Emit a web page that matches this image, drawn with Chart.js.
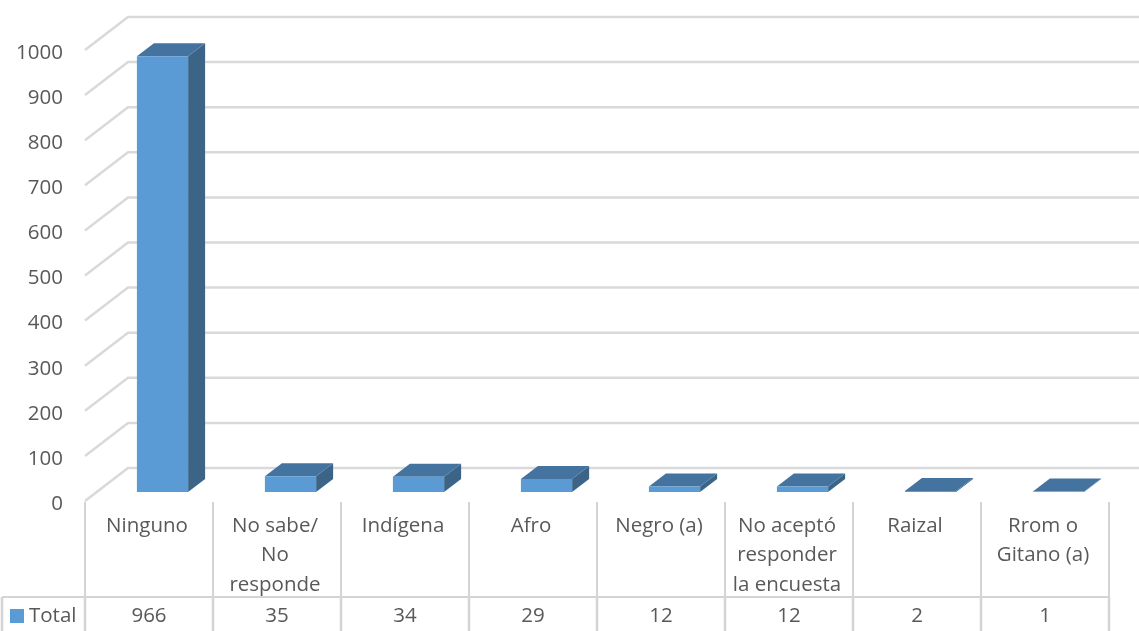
<!DOCTYPE html>
<html>
<head>
<meta charset="utf-8">
<style>
  html, body { margin: 0; padding: 0; background: #fff; overflow: hidden; }
  canvas { display: block; }
</style>
<script src="https://cdn.jsdelivr.net/npm/chart.js@4"></script>
</head>
<body>
<canvas id="chart" width="1139" height="631"></canvas>
<script>
const categories = [
  "Ninguno",
  ["No sabe/", "No", "responde"],
  "Indígena",
  "Afro",
  "Negro (a)",
  ["No aceptó", "responder", "la encuesta"],
  "Raizal",
  ["Rrom o", "Gitano (a)"],
];
const totals = [966, 35, 34, 29, 12, 12, 2, 1];
const seriesName = "Total";

const FONT = "'Open Sans'";
const FONT_SIZE = 20.5;
const TEXT = "#595959";
const GRID = "#d9d9d9";
const TABLE = "#d4d4d4";

// fake 3D: wall depth and how far the bars sit into the floor
const wallDx = 43;
const wallDy = 33;
const barShiftX = 13.5;
const barShiftY = 9;
const barDx = 17;
const barDy = 13;

const walls = {
  id: "walls",
  beforeDatasetsDraw(chart) {
    const { ctx, scales, chartArea } = chart;
    ctx.save();
    ctx.strokeStyle = GRID;
    ctx.lineWidth = 2.5;
    scales.y.ticks.forEach((t) => {
      const y = scales.y.getPixelForValue(t.value);
      ctx.beginPath();
      ctx.moveTo(chartArea.left, y);
      ctx.lineTo(chartArea.left + wallDx, y - wallDy);
      ctx.lineTo(chart.width + 20, y - wallDy);
      ctx.stroke();
    });
    ctx.restore();
  },
};

const bars3d = {
  id: "bars3d",
  beforeDatasetDraw(chart, args) {
    const { ctx } = chart;
    ctx.save();
    ctx.translate(barShiftX, -barShiftY);
    args.meta.data.forEach((bar) => {
      const l = bar.x - bar.width / 2;
      const r = bar.x + bar.width / 2;
      ctx.fillStyle = "#3b6487";
      ctx.beginPath();
      ctx.moveTo(r, bar.y);
      ctx.lineTo(r + barDx, bar.y - barDy);
      ctx.lineTo(r + barDx, bar.base - barDy);
      ctx.lineTo(r, bar.base);
      ctx.closePath();
      ctx.fill();
      ctx.fillStyle = "#44739f";
      ctx.beginPath();
      ctx.moveTo(l, bar.y);
      ctx.lineTo(l + barDx, bar.y - barDy);
      ctx.lineTo(r + barDx, bar.y - barDy);
      ctx.lineTo(r, bar.y);
      ctx.closePath();
      ctx.fill();
    });
  },
  afterDatasetDraw(chart) {
    chart.ctx.restore();
  },
};

const dataTable = {
  id: "dataTable",
  afterDraw(chart) {
    const { ctx, scales, chartArea } = chart;
    const cell = scales.x.width / categories.length;
    ctx.save();
    ctx.strokeStyle = TABLE;
    ctx.lineWidth = 2;
    ctx.beginPath();
    for (let i = 0; i <= categories.length; i++) {
      const x = chartArea.left + i * cell;
      ctx.moveTo(x, chartArea.bottom + 1);
      ctx.lineTo(x, 597);
    }
    ctx.moveTo(2, 597);
    ctx.lineTo(chartArea.right, 597);
    ctx.stroke();

    // the value row has heavier rules
    ctx.lineWidth = 2.5;
    ctx.beginPath();
    for (let i = 0; i <= categories.length; i++) {
      const x = chartArea.left + i * cell;
      ctx.moveTo(x, 597);
      ctx.lineTo(x, chart.height);
    }
    ctx.moveTo(2, 597);
    ctx.lineTo(2, chart.height);
    ctx.stroke();

    ctx.fillStyle = "#5b9bd5";
    ctx.fillRect(10, 609, 14, 14);

    ctx.font = `${FONT_SIZE}px ${FONT}`;
    ctx.fillStyle = TEXT;
    ctx.textBaseline = "middle";
    ctx.textAlign = "left";
    ctx.fillText(seriesName, 29, 616);
    ctx.textAlign = "center";
    totals.forEach((v, i) => {
      ctx.fillText(String(v), scales.x.getPixelForTick(i), 616);
    });
    ctx.restore();
  },
};

new Chart(document.getElementById("chart"), {
  type: "bar",
  plugins: [walls, bars3d, dataTable],
  data: {
    labels: categories,
    datasets: [
      {
        label: seriesName,
        data: totals,
        backgroundColor: "#5b9bd5",
        barPercentage: 0.4,
        categoryPercentage: 1,
        clip: false,
      },
    ],
  },
  options: {
    animation: false,
    responsive: false,
    layout: { padding: { top: 50, right: 30, left: 0, bottom: 0 } },
    plugins: {
      legend: { display: false },
      tooltip: { enabled: false },
    },
    scales: {
      x: {
        grid: { display: false },
        border: { display: false },
        afterFit(scale) {
          scale.height = 130;
        },
        ticks: {
          autoSkip: false,
          maxRotation: 0,
          minRotation: 0,
          padding: 2,
          labelOffset: -2,
          color: TEXT,
          font: { family: FONT, size: FONT_SIZE, lineHeight: 1.44 },
        },
      },
      y: {
        min: 0,
        max: 1000,
        grid: { display: false, drawTicks: false },
        border: { display: false },
        afterFit(scale) {
          scale.width = 85;
        },
        ticks: {
          stepSize: 100,
          padding: 22,
          labelOffset: 3,
          color: TEXT,
          font: { family: FONT, size: FONT_SIZE },
          callback: (v) => String(v),
        },
      },
    },
  },
});
</script>
</body>
</html>
